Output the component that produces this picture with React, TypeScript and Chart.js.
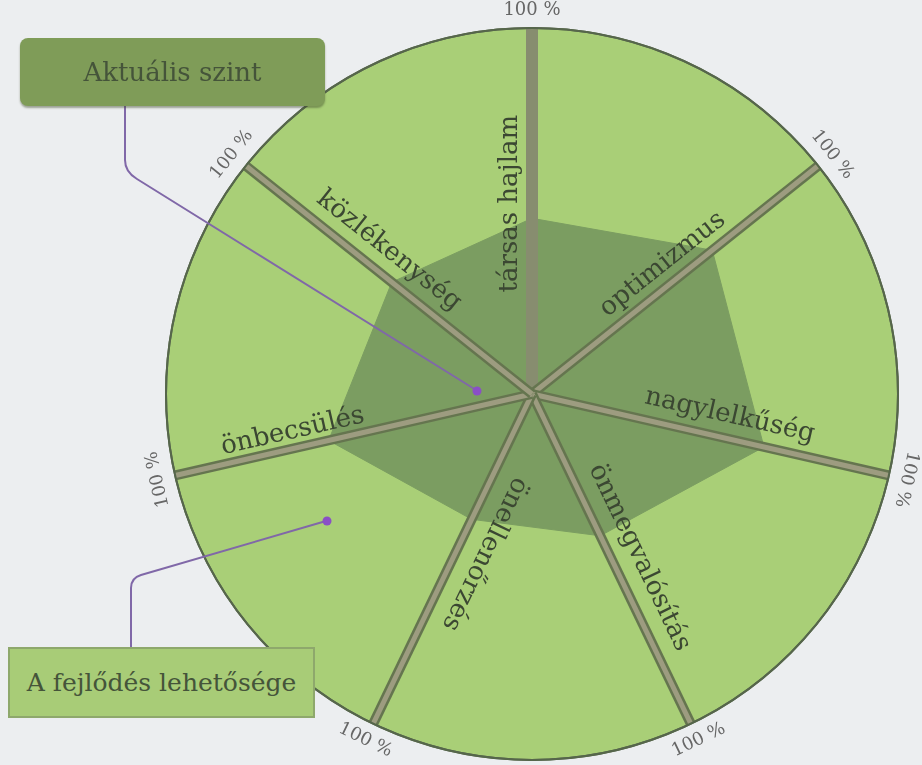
import React, { useEffect, useRef } from "react";
import { Chart, registerables } from "chart.js";

Chart.register(...registerables);

const categories = [
  "társas hajlam",
  "optimizmus",
  "nagylelkűség",
  "önmegvalósítás",
  "önellenőrzés",
  "önbecsülés",
  "közlékenység",
];
const currentLevel = [48, 63, 65, 43, 38, 57, 49];
const scaleMin = 0;
const scaleMax = 100;
const maxTickLabel = "100 %";
const seriesNames = ["Aktuális szint", "A fejlődés lehetősége"];

// layout helpers: where each axis label sits (fraction of radius along spoke, px off the spoke)
const labelRadiusFrac = [0.52, 0.5, 0.54, 0.53, 0.45, 0.66, 0.55];
const labelGap = [15, 13, 16, 19, 20, 10, 16];

const FONT = "'DejaVu Serif', 'Liberation Serif', serif";

const spokePlugin = {
  id: "spokes",
  afterDatasetsDraw(chart: any) {
    const scale = chart.scales.r;
    const ctx = chart.ctx as CanvasRenderingContext2D;
    const cx = scale.xCenter;
    const cy = scale.yCenter;
    const r = scale.drawingArea;
    ctx.save();
    ctx.lineCap = "butt";
    categories.forEach((_, i) => {
      const end = scale.getPointPositionForValue(i, scaleMax);
      ctx.beginPath();
      ctx.moveTo(cx, cy);
      ctx.lineTo(end.x, end.y);
      if (i === 0) {
        ctx.strokeStyle = "#878d6f";
        ctx.lineWidth = 12;
        ctx.stroke();
      } else {
        ctx.strokeStyle = "#65754f";
        ctx.lineWidth = 10;
        ctx.stroke();
        ctx.strokeStyle = "#9d9c80";
        ctx.lineWidth = 5;
        ctx.stroke();
      }
    });
    // outer circle on top of spoke ends
    ctx.beginPath();
    ctx.arc(cx, cy, r, 0, Math.PI * 2);
    ctx.strokeStyle = "#56664b";
    ctx.lineWidth = 2;
    ctx.stroke();

    // axis labels along the spokes
    ctx.font = `26px ${FONT}`;
    ctx.fillStyle = "#3b4732";
    categories.forEach((label, i) => {
      const phi = scale.getIndexAngle(i);
      const p = scale.getPointPositionForValue(i, scaleMax * labelRadiusFrac[i]);
      const inward = Math.sin(phi) < -0.5;
      const a = inward ? phi + Math.PI / 2 : phi - Math.PI / 2;
      ctx.save();
      ctx.translate(p.x, p.y);
      ctx.rotate(a);
      ctx.textAlign = "center";
      ctx.textBaseline = "alphabetic";
      ctx.fillText(label, 0, -labelGap[i]);
      ctx.restore();
    });

    // "100 %" at the end of each spoke
    ctx.font = `18px ${FONT}`;
    ctx.fillStyle = "#666666";
    categories.forEach((_, i) => {
      const phi = scale.getIndexAngle(i);
      const p = scale.getPointPosition(i, r + 18);
      const flip = Math.cos(phi) < -0.5;
      ctx.save();
      ctx.translate(p.x, p.y);
      ctx.rotate(flip ? phi - Math.PI : phi);
      ctx.textAlign = "center";
      ctx.textBaseline = "middle";
      ctx.fillText(maxTickLabel, 0, 0);
      ctx.restore();
    });
    ctx.restore();
  },
};

export default function App() {
  const canvasRef = useRef<HTMLCanvasElement | null>(null);

  useEffect(() => {
    if (!canvasRef.current) return;
    const chart = new Chart(canvasRef.current, {
      type: "radar",
      data: {
        labels: categories,
        datasets: [
          {
            label: seriesNames[0],
            data: currentLevel,
            backgroundColor: "#7b9d61",
            borderColor: "#7b9d61",
            borderWidth: 1,
            pointRadius: 0,
            fill: true,
          },
        ],
      },
      options: {
        animation: false,
        responsive: false,
        layout: { padding: { left: 166, right: 24, top: 28, bottom: 5 } },
        plugins: {
          legend: { display: false },
          tooltip: { enabled: false },
        },
        scales: {
          r: {
            min: scaleMin,
            max: scaleMax,
            startAngle: 0,
            backgroundColor: "#a9cf77",
            ticks: { display: false, stepSize: 100 },
            pointLabels: { display: false },
            angleLines: { display: false },
            grid: { circular: true, color: "#56664b", lineWidth: 2 },
          },
        },
      },
      plugins: [spokePlugin],
    } as any);
    return () => chart.destroy();
  }, []);

  const line = "#8068a8";
  const dot = "#8a4fc6";

  return (
    <div
      style={{
        position: "fixed",
        left: 0,
        top: 0,
        width: 922,
        height: 765,
        background: "#eceef0",
        overflow: "hidden",
      }}
    >
      <canvas
        ref={canvasRef}
        width={922}
        height={765}
        style={{ position: "absolute", left: 0, top: 0, width: 922, height: 765 }}
      />
      <svg
        width={922}
        height={765}
        style={{ position: "absolute", left: 0, top: 0, pointerEvents: "none" }}
      >
        <path
          d="M125 106 L125 160 Q125 172 137 179 L476 390"
          fill="none"
          stroke={line}
          strokeWidth={2}
        />
        <circle cx={477} cy={391} r={4.5} fill={dot} />
        <path
          d="M131 648 L131 588 Q131 578 141 575 L326 521"
          fill="none"
          stroke={line}
          strokeWidth={2}
        />
        <circle cx={327} cy={521} r={4.5} fill={dot} />
      </svg>
      <div
        style={{
          position: "absolute",
          left: 20,
          top: 38,
          width: 305,
          height: 68,
          borderRadius: 8,
          background: "#7f9c58",
          boxShadow: "0 2px 2px rgba(60,70,40,0.45)",
          display: "flex",
          alignItems: "center",
          justifyContent: "center",
          fontFamily: FONT,
          fontSize: 26,
          color: "#45543a",
        }}
      >
        {seriesNames[0]}
      </div>
      <div
        style={{
          position: "absolute",
          left: 8,
          top: 647,
          width: 303,
          height: 67,
          background: "#a8cc77",
          border: "2px solid #8ea86c",
          display: "flex",
          alignItems: "center",
          justifyContent: "center",
          fontFamily: FONT,
          fontSize: 25,
          color: "#45543a",
        }}
      >
        {seriesNames[1]}
      </div>
    </div>
  );
}
